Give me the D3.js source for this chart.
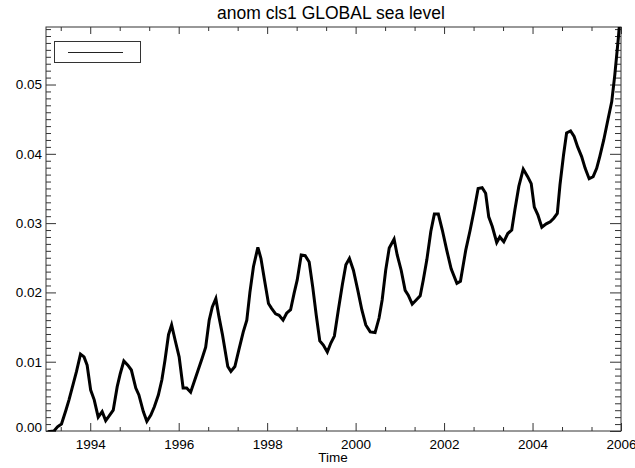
<!DOCTYPE html>
<html>
<head>
<meta charset="utf-8">
<script src="https://cdn.jsdelivr.net/npm/d3@7"></script>
<style>
  html, body { margin: 0; padding: 0; background: #fff; }
  svg { display: block; font-family: "Liberation Sans", Arial, Helvetica, sans-serif; }
</style>
</head>
<body>
<svg id="chart" width="635" height="468"></svg>
<script>
// ---- Data (decimal year, anomaly) ----
const times = [
  1993.04, 1993.18, 1993.26, 1993.35, 1993.45, 1993.52, 1993.62, 1993.69, 1993.78, 1993.86,
  1993.93, 1994.01, 1994.09, 1994.18, 1994.27, 1994.35, 1994.42, 1994.52, 1994.61, 1994.68,
  1994.76, 1994.85, 1994.93, 1995.03, 1995.10, 1995.20, 1995.28, 1995.37, 1995.45, 1995.54,
  1995.62, 1995.69, 1995.77, 1995.84, 1995.92, 1996.01, 1996.10, 1996.18, 1996.27, 1996.35,
  1996.44, 1996.53, 1996.61, 1996.69, 1996.76, 1996.84, 1996.91, 1996.99, 1997.11, 1997.18,
  1997.27, 1997.36, 1997.46, 1997.54, 1997.61, 1997.69, 1997.79, 1997.86, 1997.94, 1998.03,
  1998.10, 1998.19, 1998.27, 1998.36, 1998.44, 1998.53, 1998.61, 1998.68, 1998.77, 1998.86,
  1998.95, 1999.03, 1999.11, 1999.19, 1999.27, 1999.36, 1999.44, 1999.52, 1999.61, 1999.70,
  1999.78, 1999.86, 1999.95, 2000.05, 2000.14, 2000.23, 2000.33, 2000.44, 2000.53, 2000.60,
  2000.68, 2000.76, 2000.87, 2000.94, 2001.03, 2001.12, 2001.19, 2001.28, 2001.37, 2001.46,
  2001.53, 2001.61, 2001.70, 2001.78, 2001.87, 2001.96, 2002.06, 2002.16, 2002.29, 2002.37,
  2002.49, 2002.59, 2002.68, 2002.77, 2002.86, 2002.94, 2003.01, 2003.09, 2003.19, 2003.26,
  2003.35, 2003.44, 2003.53, 2003.60, 2003.69, 2003.79, 2003.89, 2003.97, 2004.04, 2004.12,
  2004.21, 2004.31, 2004.40, 2004.48, 2004.56, 2004.62, 2004.70, 2004.77, 2004.86, 2004.94,
  2005.02, 2005.11, 2005.19, 2005.28, 2005.37, 2005.45, 2005.52, 2005.61, 2005.71, 2005.79,
  2005.86, 2005.94, 2005.96
];
const values = [
  -0.0001, 0.0000, 0.0006, 0.0010, 0.0030, 0.0045, 0.0069, 0.0086, 0.0111, 0.0107,
  0.0095, 0.0059, 0.0045, 0.0020, 0.0028, 0.0015, 0.0021, 0.0030, 0.0064, 0.0083,
  0.0101, 0.0095, 0.0088, 0.0062, 0.0052, 0.0028, 0.0014, 0.0023, 0.0035, 0.0052,
  0.0074, 0.0102, 0.0139, 0.0153, 0.0131, 0.0107, 0.0062, 0.0062, 0.0056, 0.0071,
  0.0088, 0.0105, 0.0121, 0.0160, 0.0179, 0.0191, 0.0165, 0.0139, 0.0093, 0.0086,
  0.0093, 0.0117, 0.0143, 0.0160, 0.0200, 0.0237, 0.0265, 0.0249, 0.0218, 0.0184,
  0.0177, 0.0169, 0.0167, 0.0160, 0.0170, 0.0175, 0.0199, 0.0218, 0.0254, 0.0253,
  0.0244, 0.0208, 0.0167, 0.0130, 0.0124, 0.0114, 0.0127, 0.0137, 0.0175, 0.0211,
  0.0240, 0.0249, 0.0232, 0.0203, 0.0175, 0.0153, 0.0143, 0.0142, 0.0163, 0.0189,
  0.0232, 0.0264, 0.0277, 0.0254, 0.0232, 0.0203, 0.0196, 0.0183, 0.0189, 0.0195,
  0.0218, 0.0247, 0.0288, 0.0313, 0.0313, 0.0290, 0.0261, 0.0234, 0.0213, 0.0216,
  0.0261, 0.0290, 0.0319, 0.0350, 0.0351, 0.0343, 0.0309, 0.0295, 0.0272, 0.0280,
  0.0273, 0.0285, 0.0290, 0.0319, 0.0353, 0.0378, 0.0367, 0.0357, 0.0323, 0.0312,
  0.0294, 0.0299, 0.0302, 0.0307, 0.0314, 0.0355, 0.0398, 0.0430, 0.0433, 0.0425,
  0.0410, 0.0396, 0.0379, 0.0364, 0.0367, 0.0379, 0.0396, 0.0420, 0.0451, 0.0475,
  0.0514, 0.0567, 0.0583
];
const xMajorTicks = [1994, 1996, 1998, 2000, 2002, 2004, 2006];
const xTickLabels = ["1994", "1996", "1998", "2000", "2002", "2004", "2006"];
const yMajorTicks = [0.00, 0.01, 0.02, 0.03, 0.04, 0.05];
const yTickLabels = ["0.00", "0.01", "0.02", "0.03", "0.04", "0.05"];
const xDomain = [1993, 2006];
const yDomain = [0, 0.0583];
const titleText = "anom cls1 GLOBAL sea level";
const xAxisTitle = "Time";

// ---- Layout ----
const L = 46, T = 27, R = 621, B = 431;
const axisColor = "#333";
const svg = d3.select("#chart");

const x = d3.scaleLinear().domain(xDomain).range([L, R]);
const y = d3.scaleLinear().domain(yDomain).range([B, T]);

// minor ticks
const xMinor = d3.range(1993 + 1/3, 2006.001, 2/3).filter(v => !xMajorTicks.some(m => Math.abs(m - v) < 0.01));
const yMinor = d3.range(0.001, 0.0584, 0.001).filter(v => !yMajorTicks.some(m => Math.abs(m - v) < 1e-6));

function styleAxis(g) {
  g.select(".domain").remove();
  g.selectAll(".tick line").attr("stroke", axisColor).attr("stroke-width", 1);
  g.selectAll(".tick text").attr("fill", "#000");
}

// Bottom axis (labels)
const gB = svg.append("g").attr("transform", `translate(0,${B})`)
  .call(d3.axisBottom(x).tickValues(xMajorTicks)
    .tickFormat((d, i) => xTickLabels[i]).tickSizeInner(-8).tickSizeOuter(0).tickPadding(8))
  .attr("font-size", 13.5).attr("font-family", null);
styleAxis(gB);
const gBm = svg.append("g").attr("transform", `translate(0,${B})`)
  .call(d3.axisBottom(x).tickValues(xMinor).tickFormat("").tickSizeInner(-4).tickSizeOuter(0));
styleAxis(gBm);

// Top axis
const gT = svg.append("g").attr("transform", `translate(0,${T})`)
  .call(d3.axisTop(x).tickValues(xMajorTicks).tickFormat("").tickSizeInner(-7).tickSizeOuter(0));
styleAxis(gT);
const gTm = svg.append("g").attr("transform", `translate(0,${T})`)
  .call(d3.axisTop(x).tickValues(xMinor).tickFormat("").tickSizeInner(-4).tickSizeOuter(0));
styleAxis(gTm);

// Left axis (labels)
const gL = svg.append("g").attr("transform", `translate(${L},0)`)
  .call(d3.axisLeft(y).tickValues(yMajorTicks)
    .tickFormat((d, i) => yTickLabels[i]).tickSizeInner(-10).tickSizeOuter(0).tickPadding(4))
  .attr("font-size", 13.5).attr("font-family", null);
styleAxis(gL);
gL.selectAll(".tick text").attr("dy", d => d === 0 ? "0em" : "0.32em");
const gLm = svg.append("g").attr("transform", `translate(${L},0)`)
  .call(d3.axisLeft(y).tickValues(yMinor).tickFormat("").tickSizeInner(-5).tickSizeOuter(0));
styleAxis(gLm);

// Right axis
const gR = svg.append("g").attr("transform", `translate(${R},0)`)
  .call(d3.axisRight(y).tickValues(yMajorTicks).tickFormat("").tickSizeInner(-11).tickSizeOuter(0));
styleAxis(gR);
const gRm = svg.append("g").attr("transform", `translate(${R},0)`)
  .call(d3.axisRight(y).tickValues(yMinor).tickFormat("").tickSizeInner(-6).tickSizeOuter(0));
styleAxis(gRm);

// Frame
svg.append("rect").attr("x", L).attr("y", T).attr("width", R - L).attr("height", B - T)
  .attr("fill", "none").attr("stroke", axisColor).attr("stroke-width", 1);

// Clip
svg.append("clipPath").attr("id", "plotclip").append("rect")
  .attr("x", L).attr("y", T - 1).attr("width", R - L).attr("height", B - T + 1);

// Data line
const data = times.map((t, i) => [t, values[i]]);
const line = d3.line().x(d => x(d[0])).y(d => y(d[1]));
svg.append("path").datum(data)
  .attr("clip-path", "url(#plotclip)")
  .attr("d", line)
  .attr("fill", "none").attr("stroke", "#000").attr("stroke-width", 3)
  .attr("stroke-linejoin", "miter").attr("stroke-miterlimit", 4);

// Legend
svg.append("rect").attr("x", 54.5).attr("y", 41.5).attr("width", 86).attr("height", 21)
  .attr("fill", "none").attr("stroke", axisColor).attr("stroke-width", 1);
svg.append("line").attr("x1", 68).attr("x2", 123).attr("y1", 52.5).attr("y2", 52.5)
  .attr("stroke", "#222").attr("stroke-width", 1);

// Title
svg.append("text").attr("x", 331).attr("y", 19).attr("text-anchor", "middle")
  .attr("font-size", 17.5).attr("fill", "#000").text(titleText);

// X axis title
svg.append("text").attr("x", 333).attr("y", 462).attr("text-anchor", "middle")
  .attr("font-size", 13.5).attr("fill", "#000").text(xAxisTitle);
</script>
</body>
</html>
